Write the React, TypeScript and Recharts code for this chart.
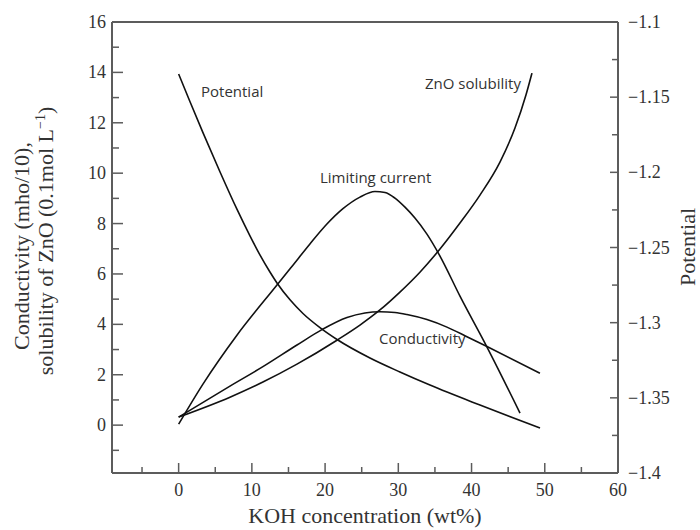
import { LineChart, Line, XAxis, YAxis, ReferenceLine } from "recharts";

// KOH concentration (wt%) vs. value
const potentialX = [0, 1.54, 3.32, 5.64, 7.96, 9.74, 11.1, 12.47, 13.43, 15.21, 16.98, 19.3, 21.63, 26.13, 30.22, 34.32, 41.15, 49.35];
const potentialY = [-1.1346, -1.1529, -1.1736, -1.1996, -1.2245, -1.2422, -1.2549, -1.2663, -1.2736, -1.2848, -1.2939, -1.3033, -1.3112, -1.3235, -1.3328, -1.3415, -1.3548, -1.3701];

const limitingX = [0, 3.32, 7.96, 13.43, 15.61, 17.93, 20.25, 22.44, 24.76, 26.81, 28.18, 29.54, 30.91, 32.27, 33.91, 35.69, 38.42, 42.11, 46.62];
const limitingY = [0.04, 1.63, 3.57, 5.56, 6.35, 7.19, 7.98, 8.59, 9.05, 9.27, 9.23, 9.01, 8.65, 8.22, 7.58, 6.71, 5.12, 3.1, 0.48];

const conductivityX = [0, 7.01, 11.51, 16.16, 19.57, 22.99, 25.44, 27.49, 29.54, 31.18, 33.91, 36.64, 39.37, 42.11, 49.34];
const conductivityY = [0.32, 1.55, 2.32, 3.18, 3.79, 4.27, 4.45, 4.5, 4.47, 4.39, 4.19, 3.89, 3.51, 3.12, 2.06];

const znoX = [0, 7.01, 11.51, 16.16, 21.62, 24.76, 27.49, 30.22, 32.95, 35.69, 38.42, 41.15, 43.88, 45.93, 47.43, 48.25];
const znoY = [0.32, 1.11, 1.71, 2.42, 3.37, 3.97, 4.57, 5.28, 6.07, 6.99, 8.02, 9.13, 10.44, 11.79, 13.1, 13.97];

const xTicks = [-5, 0, 5, 10, 15, 20, 25, 30, 35, 40, 45, 50, 55, 60];
const leftTicks = [-1, 0, 1, 2, 3, 4, 5, 6, 7, 8, 9, 10, 11, 12, 13, 14, 15, 16];
const rightTicks = [-1.4, -1.375, -1.35, -1.325, -1.3, -1.275, -1.25, -1.225, -1.2, -1.175, -1.15, -1.125, -1.1];

const serif = "'Liberation Serif', 'Times New Roman', serif";
const sans = "'Open Sans', 'Noto Sans', sans-serif";
const axisGray = "#5c5c5c";
const textGray = "#333";

function zip(xs: number[], ys: number[]) {
  return xs.map((x, i) => ({ x, y: ys[i] }));
}

function XTick(props: any) {
  const { x, y, payload } = props;
  const v = payload.value;
  const major = v % 10 === 0;
  return (
    <g>
      <line x1={x} x2={x} y1={y} y2={y - (major ? 10 : 6)} stroke={axisGray} strokeWidth={1.5} />
      {major && (
        <text x={x} y={y + 23} textAnchor="middle" fontFamily={serif} fontSize={18} fill={textGray}>
          {v}
        </text>
      )}
    </g>
  );
}

function LeftTick(props: any) {
  const { x, y, payload } = props;
  const v = payload.value;
  const major = v % 2 === 0;
  return (
    <g>
      <line x1={x} x2={x + (major ? 11 : 7)} y1={y} y2={y} stroke={axisGray} strokeWidth={1.5} />
      {major && (
        <text x={x - 6} y={y + 6} textAnchor="end" fontFamily={serif} fontSize={18} fill={textGray}>
          {v}
        </text>
      )}
    </g>
  );
}

function RightTick(props: any) {
  const { x, y, payload } = props;
  const v = payload.value;
  const major = Math.abs(v * 20 - Math.round(v * 20)) < 1e-6;
  return (
    <g>
      <line x1={x} x2={x - (major ? 8 : 6)} y1={y} y2={y} stroke={axisGray} strokeWidth={1.5} />
      {major && (
        <text x={x + 10} y={y + 6} textAnchor="start" fontFamily={serif} fontSize={18} fill={textGray}>
          {"\u2212" + String(Math.abs(v))}
        </text>
      )}
    </g>
  );
}

export default function App() {
  return (
    <div style={{ position: "absolute", left: 0, top: 0, background: "#fff" }}>
      <LineChart width={700} height={530} margin={{ top: 22, right: 12, bottom: 7, left: 12 }}>
        <XAxis
          type="number"
          dataKey="x"
          domain={[-9.1, 60]}
          ticks={xTicks}
          interval={0}
          height={50}
          tickSize={0}
          tickMargin={0}
          tickLine={false}
          tick={<XTick />}
          axisLine={{ stroke: axisGray, strokeWidth: 2 }}
          allowDuplicatedCategory={false}
        />
        <YAxis
          yAxisId="left"
          type="number"
          domain={[-1.9, 16]}
          ticks={leftTicks}
          interval={0}
          width={100}
          tickSize={0}
          tickMargin={0}
          tickLine={false}
          tick={<LeftTick />}
          axisLine={{ stroke: axisGray, strokeWidth: 2 }}
        />
        <YAxis
          yAxisId="right"
          orientation="right"
          type="number"
          domain={[-1.4, -1.1]}
          ticks={rightTicks}
          interval={0}
          width={70}
          tickSize={0}
          tickMargin={0}
          tickLine={false}
          tick={<RightTick />}
          axisLine={{ stroke: axisGray, strokeWidth: 2 }}
        />
        <ReferenceLine yAxisId="left" y={16} stroke={axisGray} strokeWidth={2} />

        <Line yAxisId="right" data={zip(potentialX, potentialY)} dataKey="y" type="monotone" stroke="#111" strokeWidth={1.6} dot={false} isAnimationActive={false} />
        <Line yAxisId="left" data={zip(limitingX, limitingY)} dataKey="y" type="monotone" stroke="#111" strokeWidth={1.6} dot={false} isAnimationActive={false} />
        <Line yAxisId="left" data={zip(conductivityX, conductivityY)} dataKey="y" type="monotone" stroke="#111" strokeWidth={1.6} dot={false} isAnimationActive={false} />
        <Line yAxisId="left" data={zip(znoX, znoY)} dataKey="y" type="monotone" stroke="#111" strokeWidth={1.6} dot={false} isAnimationActive={false} />

        <text x={201} y={97} fontFamily={sans} fontSize={15} fill={textGray}>Potential</text>
        <text x={320} y={183} fontFamily={sans} fontSize={15} fill={textGray}>Limiting current</text>
        <text x={425} y={89} fontFamily={sans} fontSize={15} fill={textGray}>ZnO solubility</text>
        <text x={379} y={344} fontFamily={sans} fontSize={15} fill={textGray}>Conductivity</text>

        <text x={365} y={523} textAnchor="middle" fontFamily={serif} fontSize={22} fill={textGray}>
          KOH concentration (wt%)
        </text>
        <text transform="translate(29,246) rotate(-90)" textAnchor="middle" fontFamily={serif} fontSize={22} fill={textGray}>
          Conductivity (mho/10),
        </text>
        <text transform="translate(53,241) rotate(-90)" textAnchor="middle" fontFamily={serif} fontSize={22} fill={textGray}>
          solubility of ZnO (0.1mol L<tspan dy={-8} fontSize={14}>{"\u22121"}</tspan>
          <tspan dy={8}>)</tspan>
        </text>
        <text transform="translate(695,247) rotate(-90)" textAnchor="middle" fontFamily={serif} fontSize={22} fill={textGray}>
          Potential
        </text>
      </LineChart>
    </div>
  );
}
